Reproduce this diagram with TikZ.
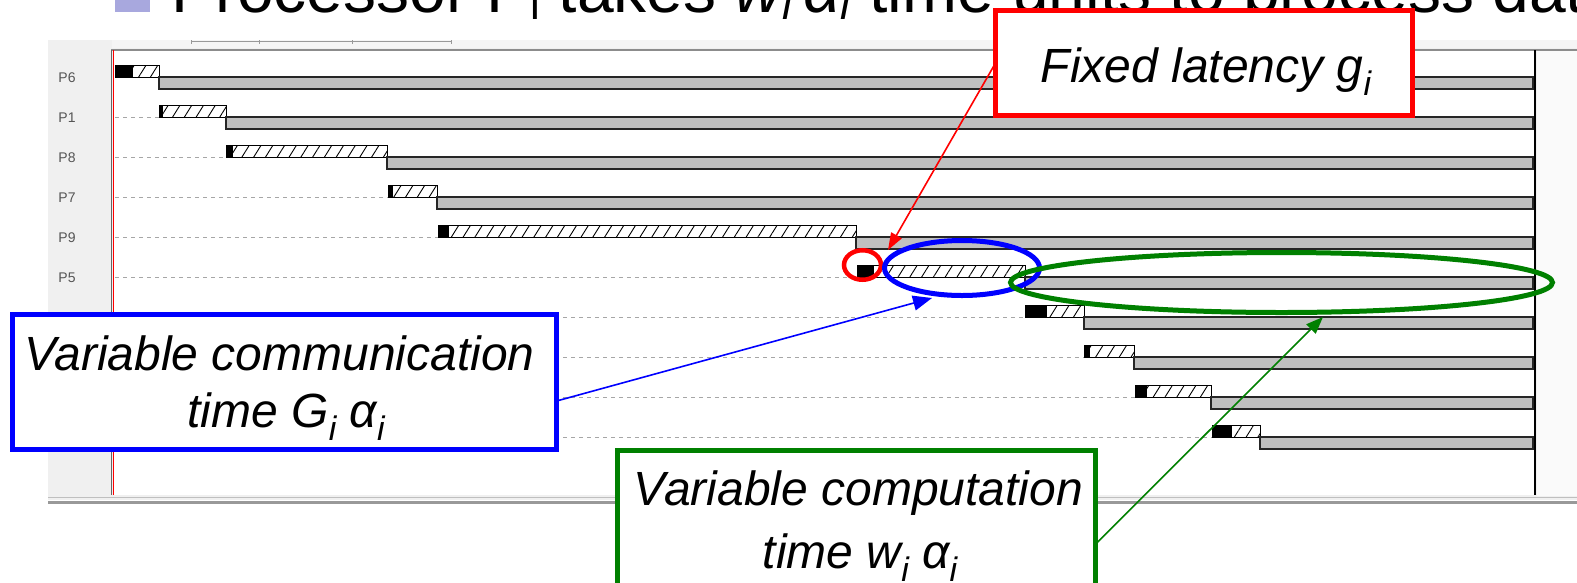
\documentclass[tikz,border=0pt]{standalone}
\usepackage{fontspec}
\setmainfont{Liberation Sans}
\usetikzlibrary{arrows.meta,patterns.meta,shapes.geometric}
\definecolor{barg}{RGB}{192,192,192}
\definecolor{panelg}{RGB}{240,240,240}
\definecolor{lav}{RGB}{168,168,222}
\definecolor{dgreen}{RGB}{0,128,0}
\definecolor{lblg}{RGB}{85,85,85}
\newcommand{\csub}[1]{\raisebox{-13pt}{\fontsize{34}{34}\selectfont #1}}
\newcommand{\tsub}[1]{\raisebox{-7pt}{\fontsize{44}{44}\selectfont #1}}
\tikzset{
  callbox/.style={draw, line width=5pt, fill=white, inner sep=0pt, outer sep=0pt},
  calltext/.style={font=\fontsize{48}{56}\selectfont\itshape, inner sep=0pt, anchor=base},
  ell/.style={ellipse, draw, line width=5pt, inner sep=0pt, outer sep=0pt},
  plabel/.style={font=\fontsize{14}{14}\selectfont, text=lblg, inner sep=0pt},
  dashline/.style={draw=black!35, line width=0.9pt, dash pattern=on 4pt off 4pt},
  grayline/.style={fill=barg, draw=black!85, line width=1.3pt},
  hatch/.style={pattern={Lines[angle=58,distance=10pt,line width=0.9pt]}, pattern color=black},
  conn/.style={line width=1.6pt}
}
\begin{document}
\begin{tikzpicture}[x=1pt,y=-1pt]
\useasboundingbox (0,0) rectangle (1577,582);
\begin{scope}
\clip (0,0) rectangle (1577,582);
\fill[white] (0,0) rectangle (1577,582);
% title (cut off at the top, as in the reference)
\fill[lav] (115,-25) rectangle (150,12);
\node[anchor=base west, inner sep=0pt, font=\fontsize{66}{66}\selectfont] (title) at (171,12)
  {Processor P\tsub{i} takes \textit{w\tsub{i}\,α\tsub{i}} time units to process data};
% screenshot panel
\fill[panelg] (48,40) rectangle (1577,500);
\fill[white!96!black] (112,40) rectangle (1577,48);
\fill[white] (113,50) rectangle (1535,495);
\fill[white!98!black] (1537,50) rectangle (1577,496);
\draw[black!45, line width=2pt] (111,49.5) -- (1577,49.5);
\draw[black!25, line width=1pt] (48,497.5) -- (1577,497.5);
\draw[black!40, line width=3pt] (48,502.5) -- (1577,502.5);
\draw[black!40, line width=0.8pt] (191,41) -- (451,41);
\foreach \t in {191,259,352,451} \draw[black!40, line width=0.8pt] (\t,40) -- (\t,44);
\draw[black!60, line width=1.5pt] (111.5,50) -- (111.5,495);
\draw[red, line width=1.6pt] (113.5,50) -- (113.5,495);
% rows
\foreach \y/\a/\b/\c in {77/115/133/159, 117/159/163/226, 157/226/233/387, 197/388/393/437,
    237/438/449/856, 277/857/874/1025, 317/1025/1047/1084, 357/1084/1090/1134,
    397/1135/1147/1211, 437/1212/1232/1260}{
  \draw[dashline] (115,\y) -- (\a,\y);
  \fill[white] (\b,\y-12) rectangle (\c,\y);
  \path[hatch] (\b,\y-12) rectangle (\c,\y);
  \fill[black] (\a,\y-12) rectangle (\b,\y);
  \draw[black, line width=1pt] (\a,\y-12) rectangle (\c,\y);
  \draw[grayline] (\c,\y) rectangle (1533,\y+12);
}
\draw[black, line width=2.2pt] (1535,50) -- (1535,495);
\foreach \n/\y in {P6/77, P1/117, P8/157, P7/197, P9/237, P5/277}
  \node[plabel] (lab\n) at (67,\y+1) {\n};
% highlight ellipses
\node[ell, draw=red, line width=4.5pt, minimum width=37pt, minimum height=29.5pt] (rc) at (862.5,265) {};
\node[ell, draw=blue, minimum width=155pt, minimum height=55pt] (bc) at (962,268) {};
\node[ell, draw=dgreen, minimum width=542pt, minimum height=60pt] (gc) at (1281.5,282.5) {};
\coordinate (rtip) at (888,250);
\coordinate (btip) at (932,298);
\coordinate (gtip) at (1323,317);
% callout boxes
\node[callbox, draw=red, minimum width=417pt, minimum height=105pt] (rbox) at (1204,63) {};
\node[calltext] (rtext) at (1206,82) {Fixed latency g\csub{i}};
\node[callbox, draw=blue, minimum width=544pt, minimum height=135pt] (bbox) at (284.5,382) {};
\node[calltext] (bt1) at (279.5,370) {Variable communication};
\node[calltext] (bt2) at (286,427) {time G\csub{i}\ α\csub{i}};
\node[callbox, draw=dgreen, minimum width=478pt, minimum height=154pt] (gbox) at (856.5,527.5) {};
\node[calltext] (gt1) at (858.5,505) {Variable computation};
\node[calltext] (gt2) at (860,568) {time w\csub{i}\ α\csub{i}};
% connectors
\draw[conn, red, -{Triangle[length=17pt,width=12pt]}] (rbox.west) -- (rtip);
\draw[conn, blue, -{Triangle[length=19pt,width=15pt]}] (bbox.-4.2) -- (btip);
\draw[conn, dgreen, -{Triangle[length=17pt,width=13pt]}] (gbox.-4) -- (gtip);
\end{scope}
\end{tikzpicture}
\end{document}
